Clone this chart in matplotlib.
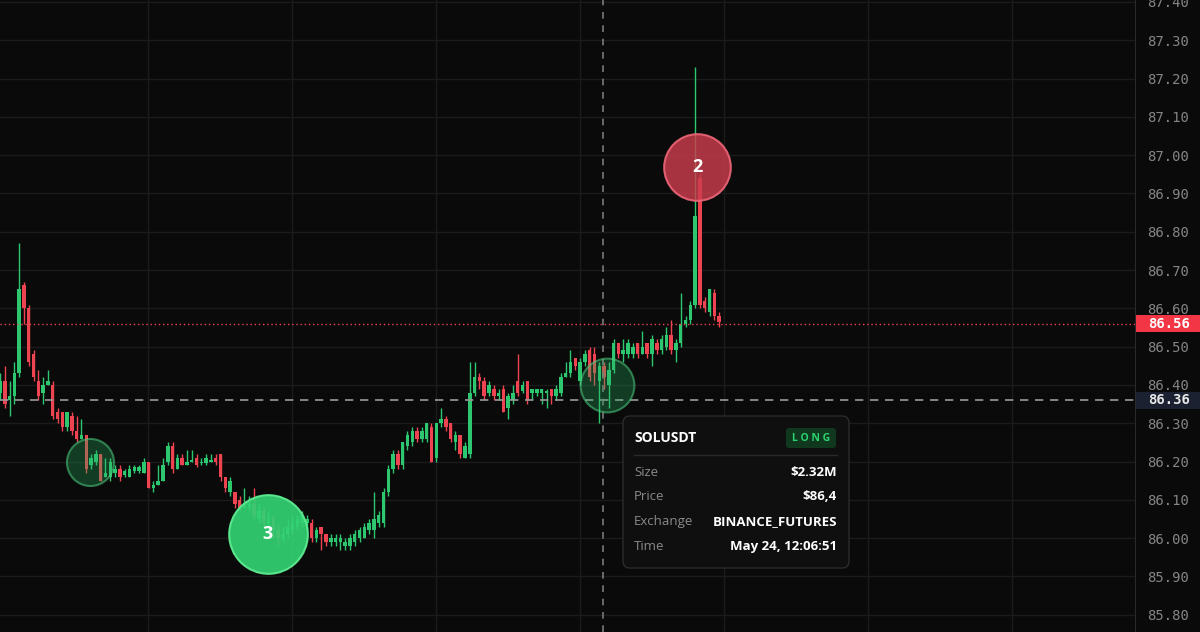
import matplotlib
matplotlib.use('Agg')
import matplotlib.pyplot as plt
import matplotlib.transforms as mtransforms
from matplotlib.patches import Rectangle, FancyBboxPatch
import numpy as np

# 1-minute candles, left to right
opens = [86.38, 86.41, 86.36, 86.37, 86.43, 86.66, 86.60, 86.48, 86.41, 86.38,
         86.40, 86.40, 86.33, 86.33, 86.29, 86.32, 86.28, 86.26, 86.27, 86.19,
         86.20, 86.22, 86.16, 86.16, 86.17, 86.18, 86.165, 86.16, 86.175, 86.175,
         86.17, 86.20, 86.13, 86.14, 86.15, 86.20, 86.24, 86.18, 86.21, 86.19,
         86.20, 86.21, 86.195, 86.195, 86.20, 86.21, 86.22, 86.16, 86.12, 86.12,
         86.10, 86.08, 86.08, 86.09, 86.05, 86.07, 86.04, 86.05, 86.02, 86.00,
         86.01, 86.02, 86.03, 86.04, 86.04, 86.04, 86.00, 86.03, 86.01, 85.99,
         85.99, 85.99, 85.98, 85.98, 85.99, 86.00, 86.00, 86.02, 86.02, 86.04,
         86.04, 86.12, 86.18, 86.22, 86.19, 86.24, 86.25, 86.28, 86.26, 86.26,
         86.29, 86.21, 86.30, 86.31, 86.30, 86.25, 86.27, 86.21, 86.22, 86.38,
         86.42, 86.41, 86.38, 86.39, 86.37, 86.39, 86.34, 86.36, 86.41, 86.385,
         86.41, 86.38, 86.38, 86.38, 86.38, 86.39, 86.37, 86.38, 86.42, 86.43,
         86.47, 86.41, 86.46, 86.49, 86.48, 86.41, 86.45, 86.40, 86.44, 86.51,
         86.48, 86.48, 86.48, 86.51, 86.48, 86.51, 86.48, 86.51, 86.49, 86.50,
         86.53, 86.49, 86.51, 86.56, 86.57, 86.61, 86.94, 86.62, 86.59, 86.64,
         86.58]
closes = [86.41, 86.35, 86.37, 86.43, 86.65, 86.60, 86.46, 86.42, 86.37, 86.40,
          86.41, 86.32, 86.31, 86.29, 86.33, 86.28, 86.26, 86.27, 86.18, 86.21,
          86.22, 86.15, 86.17, 86.20, 86.18, 86.16, 86.175, 86.18, 86.185, 86.185,
          86.20, 86.13, 86.14, 86.15, 86.19, 86.24, 86.18, 86.21, 86.19, 86.20,
          86.205, 86.19, 86.20, 86.21, 86.205, 86.20, 86.16, 86.13, 86.15, 86.09,
          86.08, 86.09, 86.09, 86.06, 86.07, 86.04, 86.05, 86.02, 86.00, 86.01,
          86.03, 86.04, 86.05, 86.06, 86.05, 86.00, 86.02, 86.01, 85.99, 86.00,
          86.00, 86.00, 85.99, 86.00, 86.01, 86.02, 86.03, 86.04, 86.05, 86.06,
          86.12, 86.18, 86.22, 86.19, 86.25, 86.27, 86.28, 86.26, 86.28, 86.30,
          86.20, 86.30, 86.31, 86.29, 86.26, 86.27, 86.22, 86.24, 86.38, 86.42,
          86.41, 86.37, 86.40, 86.37, 86.38, 86.33, 86.37, 86.38, 86.38, 86.40,
          86.36, 86.39, 86.39, 86.39, 86.385, 86.37, 86.39, 86.42, 86.43, 86.46,
          86.45, 86.46, 86.48, 86.42, 86.43, 86.45, 86.42, 86.44, 86.51, 86.48,
          86.49, 86.51, 86.50, 86.48, 86.50, 86.48, 86.52, 86.49, 86.52, 86.53,
          86.49, 86.51, 86.56, 86.57, 86.61, 86.84, 86.61, 86.60, 86.65, 86.58,
          86.565]
highs = [86.43, 86.45, 86.41, 86.46, 86.77, 86.67, 86.61, 86.49, 86.44, 86.42,
         86.44, 86.41, 86.34, 86.33, 86.33, 86.33, 86.32, 86.31, 86.27, 86.22,
         86.23, 86.22, 86.21, 86.21, 86.19, 86.19, 86.18, 86.19, 86.19, 86.19,
         86.21, 86.20, 86.15, 86.19, 86.21, 86.25, 86.25, 86.22, 86.22, 86.23,
         86.23, 86.22, 86.21, 86.22, 86.22, 86.22, 86.22, 86.16, 86.16, 86.12,
         86.11, 86.13, 86.11, 86.13, 86.09, 86.08, 86.07, 86.06, 86.04, 86.03,
         86.05, 86.06, 86.06, 86.07, 86.06, 86.05, 86.03, 86.03, 86.01, 86.01,
         86.01, 86.01, 86.00, 86.01, 86.02, 86.03, 86.04, 86.05, 86.12, 86.07,
         86.13, 86.19, 86.23, 86.23, 86.25, 86.28, 86.29, 86.29, 86.29, 86.30,
         86.30, 86.30, 86.34, 86.32, 86.30, 86.28, 86.27, 86.25, 86.46, 86.46,
         86.43, 86.42, 86.41, 86.40, 86.39, 86.40, 86.38, 86.40, 86.48, 86.41,
         86.41, 86.39, 86.39, 86.39, 86.39, 86.39, 86.40, 86.43, 86.46, 86.49,
         86.47, 86.47, 86.49, 86.50, 86.50, 86.46, 86.46, 86.46, 86.52, 86.51,
         86.52, 86.52, 86.51, 86.51, 86.54, 86.51, 86.53, 86.52, 86.53, 86.55,
         86.57, 86.52, 86.64, 86.58, 86.62, 87.23, 86.95, 86.63, 86.65, 86.65,
         86.59]
lows = [86.36, 86.34, 86.32, 86.35, 86.42, 86.56, 86.45, 86.41, 86.36, 86.35,
        86.40, 86.31, 86.30, 86.28, 86.28, 86.27, 86.25, 86.26, 86.17, 86.18,
        86.19, 86.15, 86.16, 86.15, 86.16, 86.15, 86.16, 86.16, 86.17, 86.17,
        86.17, 86.13, 86.12, 86.14, 86.15, 86.19, 86.17, 86.18, 86.19, 86.19,
        86.20, 86.185, 86.19, 86.19, 86.20, 86.19, 86.15, 86.12, 86.11, 86.08,
        86.07, 86.08, 86.07, 86.05, 86.04, 86.03, 86.02, 86.00, 85.98, 85.99,
        86.00, 86.01, 86.02, 86.03, 86.02, 85.99, 85.99, 85.97, 85.98, 85.98,
        85.98, 85.97, 85.97, 85.97, 85.98, 85.99, 86.00, 86.01, 86.00, 86.03,
        86.03, 86.11, 86.17, 86.18, 86.18, 86.23, 86.24, 86.25, 86.25, 86.25,
        86.20, 86.20, 86.29, 86.28, 86.25, 86.23, 86.21, 86.21, 86.21, 86.37,
        86.39, 86.36, 86.37, 86.36, 86.36, 86.33, 86.31, 86.35, 86.37, 86.38,
        86.35, 86.36, 86.37, 86.35, 86.34, 86.35, 86.36, 86.37, 86.42, 86.42,
        86.44, 86.40, 86.45, 86.41, 86.40, 86.30, 86.39, 86.34, 86.43, 86.47,
        86.46, 86.47, 86.47, 86.47, 86.48, 86.47, 86.45, 86.48, 86.48, 86.49,
        86.48, 86.46, 86.50, 86.55, 86.56, 86.60, 86.60, 86.59, 86.58, 86.57,
        86.55]

# large trade bubbles (candle position, price, count label, side)
bubble_idx = [18.8, 55.9, 126.6, 145.4]
bubble_price = [86.20, 86.01, 86.40, 86.97]
bubble_label = ['', '3', '', '2']
bubble_side = ['long', 'long', 'long', 'short']

last_price = 86.56
cross_price = 86.36
cross_idx = 125.8
price_ticks = [85.80, 85.90, 86.00, 86.10, 86.20, 86.30, 86.40, 86.50, 86.60,
               86.70, 86.80, 86.90, 87.00, 87.10, 87.20, 87.30, 87.40]

tip_rows = ['Size', 'Price', 'Exchange', 'Time']
tip_values = ['$2.32M', '$86,4', 'BINANCE_FUTURES', 'May 24, 12:06:51']

BG = '#0a0a0a'
GREEN = '#2dc770'
RED = '#ee4351'
GRID = '#1b1b1b'
UI_FONT = ['Open Sans', 'DejaVu Sans']

fig = plt.figure(figsize=(12, 6.32), dpi=100, facecolor=BG)
ax = fig.add_axes([0, 0, 1135 / 1200, 1])
ax.set_facecolor(BG)

n = min(len(opens), len(closes), len(highs), len(lows))
idx = np.arange(n)
o = np.array(opens[:n])
c = np.array(closes[:n])
h = np.array(highs[:n])
l = np.array(lows[:n])
cols = np.where(c >= o, GREEN, RED)

ax.vlines(idx, l, h, colors=cols, lw=1, zorder=3)
ax.bar(idx, np.maximum(np.abs(c - o), 0.004), bottom=np.minimum(o, c),
       width=0.72, color=cols, zorder=3)

# grid
for p in price_ticks:
    ax.axhline(p, color=GRID, lw=1, zorder=0)
for gx in np.arange(30.9, 240, 30.05):
    ax.axvline(gx, color=GRID, lw=1, zorder=0)

# bubbles
sizes = [1150, 3200, 1500, 2300]
for bx, bp, lab, side, s in zip(bubble_idx, bubble_price, bubble_label, bubble_side, sizes):
    if side == 'short':
        fc, ec = (0.80, 0.24, 0.30, 0.82), (0.93, 0.40, 0.47, 0.9)
    elif lab:
        fc, ec = (0.20, 0.82, 0.45, 0.92), (0.35, 0.90, 0.55, 1.0)
    else:
        fc, ec = (0.16, 0.70, 0.38, 0.30), (0.30, 0.80, 0.50, 0.55)
    ax.scatter([bx], [bp], s=s, facecolor=fc, edgecolor=ec, lw=1.5, zorder=5)
    if lab:
        ax.text(bx, bp, lab, color='white', fontsize=13, fontweight='bold',
                ha='center', va='center', zorder=6, family=UI_FONT)

# price lines and crosshair
ax.axhline(last_price, color=RED, lw=1, ls=(0, (1, 2)), zorder=4)
ax.axhline(cross_price, color='#9a9a9a', lw=1.2, ls=(0, (5, 4)), zorder=4)
ax.axvline(cross_idx, color='#7a7a7a', lw=1.2, ls=(0, (4, 4)), zorder=4)

ax.set_xlim(0, 1135 / 4.794)
ax.set_ylim(85.755, 87.405)
ax.set_xticks([])
ax.set_yticks(price_ticks)
ax.yaxis.tick_right()
ax.tick_params(axis='y', length=0, pad=9, colors='#858585', labelsize=10)
for t in ax.get_yticklabels():
    t.set_family('DejaVu Sans Mono')
ax.yaxis.set_major_formatter(plt.FormatStrFormatter('%.2f'))
for side in ['top', 'left', 'bottom']:
    ax.spines[side].set_visible(False)
ax.spines['right'].set_color('#2a2a2a')

# price tags on the scale
tr = mtransforms.blended_transform_factory(fig.transFigure, ax.transData)
half = 8.5 * 1.65 / 632
for price, fc, tc in [(last_price, '#f23645', 'white'), (cross_price, '#1b2130', '#e8e8e8')]:
    fig.add_artist(Rectangle((1136 / 1200, price - half), 64 / 1200, 2 * half,
                             transform=tr, facecolor=fc, edgecolor='none', zorder=10))
    fig.text(1169 / 1200, price, '%.2f' % price, transform=tr, color=tc, fontsize=10,
             fontweight='bold', family='DejaVu Sans Mono', ha='center', va='center',
             zorder=11)

# tooltip, laid out in its own pixel-unit axes
tip = fig.add_axes([622 / 1200, (632 - 569) / 632, 228 / 1200, 154 / 632])
tip.set_xlim(0, 228)
tip.set_ylim(154, 0)
tip.axis('off')
tip.add_patch(FancyBboxPatch((1, 1), 226, 152, boxstyle='round,pad=0,rounding_size=7',
                             facecolor='#0f0f0f', edgecolor='#2b2b2b', lw=1))
tip.text(12, 23, 'SOLUSDT', color='white', fontsize=10, fontweight='bold',
         family=UI_FONT, va='center')
tip.add_patch(FancyBboxPatch((164, 13), 50, 20, boxstyle='round,pad=0,rounding_size=3',
                             facecolor='#10381f', edgecolor='none'))
tip.text(189, 23.5, 'L O N G', color='#2bd46f', fontsize=7.5, fontweight='bold',
         family=UI_FONT, ha='center', va='center')
tip.plot([12, 215], [40, 40], color='#2a2a2a', lw=1)
for k, (lab, val) in enumerate(zip(tip_rows, tip_values)):
    y = 57 + k * 24.7
    tip.text(12, y, lab, color='#8a8a8a', fontsize=9.5, family=UI_FONT, va='center')
    tip.text(215, y, val, color='white', fontsize=9.5, fontweight='bold',
             family=UI_FONT, ha='right', va='center')

fig.savefig('out.png', dpi=100, facecolor=BG)
